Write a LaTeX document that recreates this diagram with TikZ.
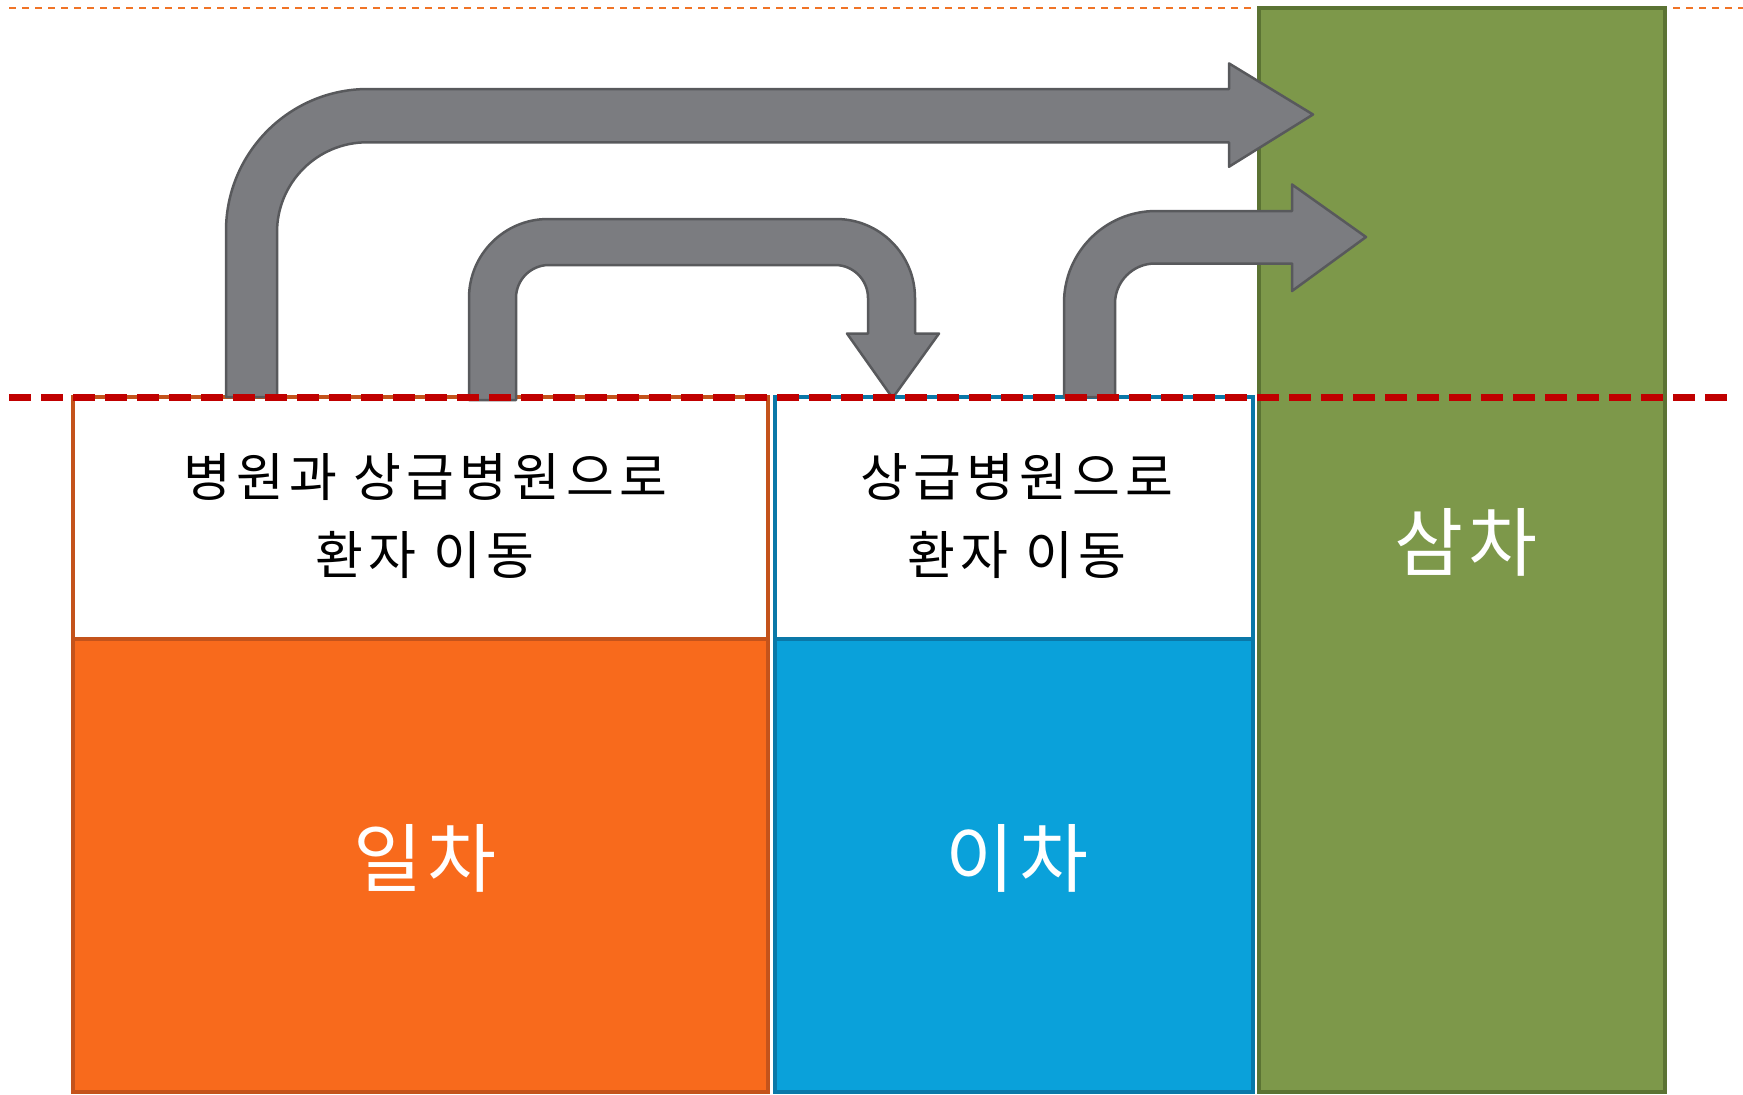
\documentclass[tikz,border=0pt]{standalone}
\usepackage{fontspec}
\newfontfamily\krlab{Noto Sans CJK KR}[LetterSpace=10]
\newfontfamily\krbig{Noto Sans CJK KR}[LetterSpace=6]
\definecolor{orfill}{HTML}{F86A1C}
\definecolor{ordraw}{HTML}{C4531B}
\definecolor{blfill}{HTML}{0AA1DA}
\definecolor{bldraw}{HTML}{0A78A8}
\definecolor{grfill}{HTML}{7D984A}
\definecolor{grdraw}{HTML}{5B7333}
\definecolor{arfill}{HTML}{7B7C80}
\definecolor{ardraw}{HTML}{58595C}
\definecolor{redline}{HTML}{C00000}
\definecolor{topline}{HTML}{F07427}
\begin{document}
\begin{tikzpicture}[x=1pt,y=-1pt,
  bigarrow/.style={fill=arfill,draw=ardraw,line width=2.5pt,line join=round},
  labeltext/.style={text=black,align=center,font=\krlab\fontsize{52}{78}\selectfont},
  tiertext/.style={text=white,font=\krbig\fontsize{75}{80}\selectfont}]
\useasboundingbox (0,0) rectangle (1743,1095);
% top dotted line
\draw[topline,line width=2pt,dash pattern=on 7pt off 6pt] (9,8) -- (1743,8);
% tertiary column
\draw[fill=grfill,draw=grdraw,line width=3.5pt] (1259,8) rectangle (1665,1092);
\node[tiertext] (t3) at (1466,542) {삼차};
% primary
\draw[fill=white,draw=ordraw,line width=3.5pt] (73,397) rectangle (768,639);
\draw[fill=orfill,draw=ordraw,line width=3.5pt] (73,639) rectangle (768,1092);
\node[labeltext] (l1) at (425,516) {병원과 상급병원으로\\환자 이동};
\node[tiertext] (t1) at (425,858) {일차};
% secondary
\draw[fill=white,draw=bldraw,line width=3.5pt] (775,397) rectangle (1253,639);
\draw[fill=blfill,draw=bldraw,line width=3.5pt] (775,639) rectangle (1253,1092);
\node[labeltext] (l2) at (1017,516) {상급병원으로\\환자 이동};
\node[tiertext] (t2) at (1017,858) {이차};
% arrow 1
\draw[bigarrow] (226,397) -- (226,231) arc[start angle=180,end angle=270,radius=142]
  -- (1229,89) -- (1229,63.4) -- (1313,114.5) -- (1229,166.7) -- (1229,142.3)
  -- (367,142.3) arc[start angle=270,end angle=180,radius=90] -- (277,397) -- cycle;
% arrow 2
\draw[bigarrow] (469,400) -- (469,298) arc[start angle=180,end angle=270,radius=79]
  -- (836,219) arc[start angle=270,end angle=360,radius=79] -- (915,333.5) -- (939,333.5)
  -- (892.6,398) -- (847,333.5) -- (868,333.5) -- (868,298)
  arc[start angle=0,end angle=-90,radius=33] -- (549,265)
  arc[start angle=270,end angle=180,radius=33] -- (516,400) -- cycle;
% arrow 3
\draw[bigarrow] (1064,397) -- (1064,303) arc[start angle=180,end angle=270,radius=92]
  -- (1292,211) -- (1292,184.5) -- (1366,237) -- (1292,291) -- (1292,263.5)
  -- (1155,263.5) arc[start angle=270,end angle=180,radius=40] -- (1115,397) -- cycle;
% red dashed line
\draw[redline,line width=7pt,dash pattern=on 22pt off 10pt] (9,397) -- (1729,397);
\end{tikzpicture}
\end{document}
